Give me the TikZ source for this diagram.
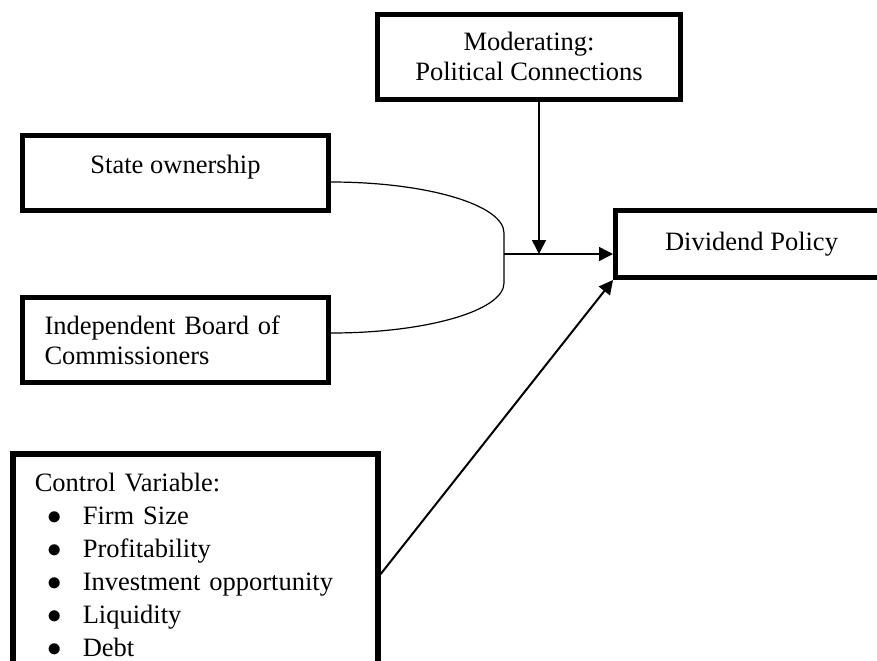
\documentclass[tikz,border=0pt]{standalone}
\usepackage{fontspec}
\setmainfont{Liberation Serif}
\usepackage{tikz}
\usetikzlibrary{arrows.meta, positioning}

\newcommand{\ctrlitem}[1]{\hspace*{6.5pt}\makebox[17.5pt][l]{$\bullet$}#1}

\begin{document}
\begin{tikzpicture}[x=0.5pt, y=-0.5pt, >={Triangle[length=7pt, width=7pt]},
    box/.style={draw, line width=2.5pt, inner sep=0pt, font=\fontsize{13.25}{15}\selectfont}]
    \path[use as bounding box, clip] (0,0) rectangle (877,660);

    % Nodes
    \node[box, minimum width=151.5pt, minimum height=42.5pt, align=center] (mod) at (529,56.5) {Moderating:\\Political Connections};
    \node[box, minimum width=153pt, minimum height=37.5pt, text height=9pt, text depth=9pt] (state) at (175.5,173) {State ownership};
    \node[box, below=41pt of state, minimum height=42.5pt, text width=131pt, inner xsep=11pt, align=left] (indep) {Independent Board of\\Commissioners};
    \node[box, minimum width=136pt, minimum height=33.5pt] (div) at (751.5,244) {Dividend Policy};
    \node[box, line width=2.8pt, anchor=north west, text width=160.5pt, inner xsep=11pt, inner ysep=9.75pt, align=left,
          font=\fontsize{13.25}{16.5}\selectfont] (ctrl) at (10,451)
          {Control Variable:\\
           \ctrlitem{Firm Size}\\
           \ctrlitem{Profitability}\\
           \ctrlitem{Investment opportunity}\\
           \ctrlitem{Liquidity}\\
           \ctrlitem{Debt}};

    \coordinate (jt) at (504,233);
    \coordinate (jb) at (504,283);
    \coordinate (jn) at (504,254);
    \coordinate (jm) at (539,254);

    % Arrows
    \draw[line width=0.6pt] ([yshift=-4.5pt]state.east) .. controls (426.5,182) and (504,204.8) .. (jt)
        -- (jb) .. controls (504,310.6) and (426.5,333) .. ([yshift=3.5pt]indep.east);
    \draw[->, line width=0.75pt] (jn) -- (jn -| div.west);
    \draw[->, line width=0.75pt] (mod.south -| jm) -- (jm);
    \draw[->, line width=1pt] ([yshift=-4.5pt]ctrl.east) -- (div.south west);
\end{tikzpicture}
\end{document}
